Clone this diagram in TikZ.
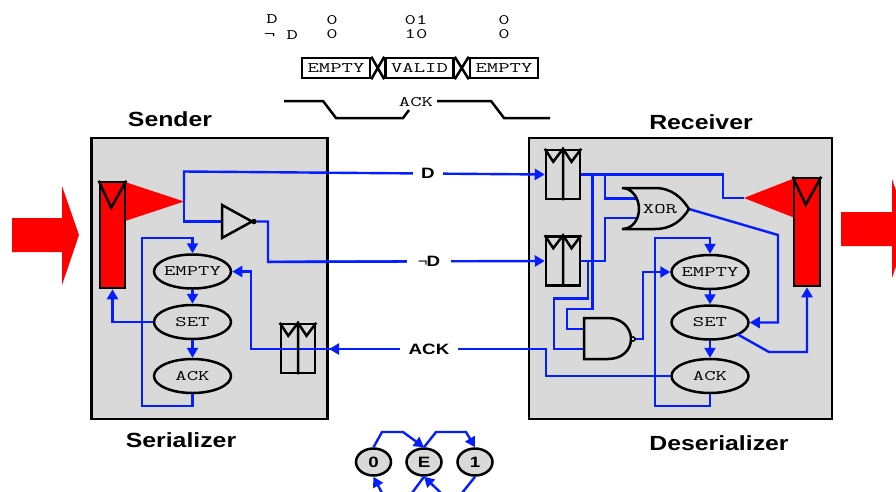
\documentclass[tikz,border=0pt]{standalone}
\usepackage{fontspec}
\usepackage{graphicx}
\setmainfont{Liberation Sans}
\usetikzlibrary{shapes.geometric,arrows.meta}
\definecolor{wire}{RGB}{5,30,255}
\definecolor{panel}{RGB}{217,217,217}
\newcommand{\tw}[1]{\makebox[0pt][c]{\scalebox{1.52}[1]{\fontsize{14.5}{15}\selectfont\ttfamily #1}}}
\newcommand{\hd}[1]{\scalebox{1.21}[1]{\fontsize{20.5}{22}\selectfont\bfseries #1}}
\newcommand{\lb}[1]{\scalebox{1.25}[1]{\fontsize{15}{16}\selectfont\bfseries #1}}
\tikzset{
  x=1pt,y=-1pt,
  panelbox/.style={draw=black,line width=2.6pt,fill=panel},
  blk/.style={draw=black,line width=2.5pt,line join=miter},
  wirel/.style={draw=wire,line width=2.4pt,line join=miter},
  arr/.style={wirel,-{Triangle[length=10pt,width=11pt]}},
  state/.style={ellipse,draw=black,line width=2.5pt,fill=panel,minimum width=77pt,minimum height=34pt,inner sep=0pt},
  small/.style={ellipse,draw=black,line width=2.5pt,fill=panel,minimum width=35pt,minimum height=27pt,inner sep=0pt},
  latchbox/.style={rectangle,draw=black,line width=2.5pt,minimum width=34pt,minimum height=49pt,inner sep=0pt},
  fifo/.style={rectangle,draw=black,line width=2.6pt,fill=red,minimum width=25pt,minimum height=106pt,inner sep=0pt},
  wavebox/.style={rectangle,draw=black,line width=2.5pt,fill=white,minimum width=68pt,minimum height=20pt,inner sep=0pt},
  gap/.style={fill=white,inner sep=0pt,minimum height=14pt},
  plain/.style={inner sep=0pt}
}
\newcommand{\latchmarks}[1]{%
  \draw[blk] (#1.north) -- (#1.south)
    (#1.north west) -- ++(8.5,13) -- (#1.north)  -- ++(8.5,13) -- (#1.north east);
}
\begin{document}
\begin{tikzpicture}
\clip (0,0) rectangle (896,491);
% timing header
\node[plain] (dA) at (272,19) {\tw{D}};
\node[plain] (dB) at (332,20) {\tw{0}};
\node[plain] (dC) at (416,20) {\tw{01}};
\node[plain] (dD) at (504,20) {\tw{0}};
\node[plain] (nA) at (281,35.5) {\tw{¬ D}};
\node[plain] (nB) at (332,34) {\tw{0}};
\node[plain] (nC) at (416,34) {\tw{10}};
\node[plain] (nD) at (504,34) {\tw{0}};
\node[wavebox] (w1) at (336,68) {\tw{EMPTY}};
\node[wavebox] (w2) at (419.5,68) {\tw{VALID}};
\node[wavebox] (w3) at (504,68) {\tw{EMPTY}};
\draw[blk] (w1.north east) -- (w2.south west) (w1.south east) -- (w2.north west);
\draw[blk] (w2.north east) -- (w3.south west) (w2.south east) -- (w3.north west);
\node[plain] (ackw) at (416,102) {\tw{ACK}};
\coordinate (wl) at (284,101);
\coordinate (wr) at (550,118);
\draw[blk] (wl) -- (323,101) -- (336,118) -- (403,118) -- (409,110);
\draw[blk] (437,101) -- (491,101) -- (504,118) -- (wr);
% titles
\node[plain] (tS) at (170,119) {\hd{Sender}};
\node[plain] (tR) at (701,122) {\hd{Receiver}};
\node[plain] (tSz) at (181,440) {\hd{Serializer}};
\node[plain] (tDz) at (719,443) {\hd{Deserializer}};
% panels
\node[panelbox,rectangle,minimum width=236.5pt,minimum height=281pt,inner sep=0pt] (pS) at (209.5,278.5) {};
\node[panelbox,rectangle,minimum width=303pt,minimum height=281pt,inner sep=0pt] (pR) at (680.5,278.5) {};
% red arrows and triangles
\fill[red] (12,218) -- (62,218) -- (62,186) -- (79,235) -- (62,285) -- (62,252) -- (12,252) -- cycle;
\fill[red] (841,212) -- (892,212) -- (892,179) -- (909,228) -- (892,278) -- (892,246) -- (841,246) -- cycle;
\fill[red] (125,182) -- (184,201.5) -- (125,221) -- cycle;
\fill[red] (795,178) -- (744,198) -- (795,218) -- cycle;
% fifos
\node[fifo] (fS) at (112.5,235) {};
\draw[blk] (fS.north west) -- ++(12.5,27) -- (fS.north east);
\node[fifo,minimum width=26pt,minimum height=108pt] (fR) at (807,232) {};
\draw[blk] (fR.north west) -- ++(13,28) -- (fR.north east);
% latches
\node[latchbox] (lS) at (298,348.5) {};
\node[latchbox] (l1) at (563,174.5) {};
\node[latchbox] (l2) at (563,261) {};
% states
\node[state] (eS) at (192.5,271.5) {\tw{EMPTY}};
\node[state] (sS) at (192.5,322) {\tw{SET}};
\node[state] (aS) at (192.5,376) {\tw{ACK}};
\node[state] (eR) at (710,272) {\tw{EMPTY}};
\node[state] (sR) at (710,322.5) {\tw{SET}};
\node[state] (aR) at (710,376) {\tw{ACK}};
% sender wires
\coordinate (srcS) at (184,201.5);
\coordinate (invIn) at (222,221.5);
\coordinate (invOut) at (256.5,221.5);
\draw[arr] (eS) -- (sS);
\draw[arr] (sS) -- (aS);
\draw[arr] (aS.south) -- (192.5,406) -- (142,406) -- (142,238) -- (192.5,238) -- (eS.north);
\draw[arr] (sS.west) -- (112.5,322) -- (fS.south);
\draw[wirel] (srcS) -- (184,221.5) -- (invIn);
\draw[wirel] (invOut) -- (268,221.5) -- (268,262) -- (410,261.5);
% link wires with labels
\draw[arr] (srcS) -- (184,171.5) -- (l1.west);
\draw[arr] (268,261.8) -- (l2.west);
\draw[wirel] (aR.west) -- (546,376) -- (546,349) -- (pS.east |- 0,349);
\draw[arr] (546,349) -- (pS.east |- 0,349);
\draw[arr] (pS.east |- 0,349) -- (251,349) -- (251,271.5) -- (eS.east);
\node[gap,minimum width=30pt] (lD) at (428,173.5) {\lb{D}};
\node[gap,minimum width=44pt] (lN) at (429,261) {\fontsize{15}{16}\selectfont\scalebox{1.1}[1]{¬}\kern-1pt\lb{D}};
\node[gap,minimum width=58pt] (lA) at (429,349) {\lb{ACK}};
% inverter
\draw[blk,fill=panel] (invIn |- 0,205) -- (252,221.5) -- (invIn |- 0,238) -- cycle;
\node[circle,fill=black,inner sep=0pt,minimum size=5.5pt] (bubS) at (254,221.5) {};
% receiver wires
\coordinate (x1) at (636,198.5);
\coordinate (x2) at (636,218);
\coordinate (xo) at (689,209);
\coordinate (n1) at (584,329);
\coordinate (n2) at (584,349);
\coordinate (no) at (635,339);
\coordinate (ftip) at (744,198);
\draw[wirel] (l1.east) -- (723,174.5) -- (723,198) -- (ftip);
\draw[wirel] (605,174.5) -- (605,198.5) -- (x1);
\draw[wirel] (l2.east) -- (605,261) -- (605,218) -- (x2);
\draw[wirel] (592.5,174.5) -- (592.5,309) -- (567,309) -- (567,329) -- (n1);
\draw[wirel] (588,261) -- (588,298.5) -- (554,298.5) -- (554,349) -- (n2);
\draw[arr] (aR.south) -- (710,406) -- (655,406) -- (655,238) -- (710,238) -- (eR.north);
\draw[arr] (no) -- (643,339) -- (643,272) -- (eR.west);
\draw[arr] (eR) -- (sR);
\draw[arr] (sR) -- (aR);
\draw[arr] (xo) -- (778,235) -- (778,322.5) -- (sR.east);
\draw[arr] (737,334) -- (769,352) -- (807,352) -- (fR.south);
% gates
\draw[blk,fill=panel] (622,188) -- (655,188) .. controls (672,188) and (682,198) .. (xo) .. controls (682,220) and (672,229) .. (655,229) -- (622,229) .. controls (632,229) and (639,220) .. (639,209) .. controls (639,198) and (632,188) .. (622,188) -- cycle;
\node[plain] (xorT) at (660,209) {\tw{XOR}};
\draw[blk,fill=panel] (584,318) -- (608,318) .. controls (622,318) and (631,328) .. (631,339) .. controls (631,350) and (622,359) .. (608,359) -- (584,359) -- cycle;
\node[circle,draw=black,fill=white,line width=1.6pt,inner sep=0pt,minimum size=4pt] (bubR) at (633,339) {};
% latch details
\latchmarks{lS}
\latchmarks{l1}
\latchmarks{l2}
% encoding graph
\node[small] (g0) at (373.5,462) {\lb{0}};
\node[small] (gE) at (424,462) {\lb{E}};
\node[small] (g1) at (475,462) {\lb{1}};
\draw[arr] (g0.north) -- (382,432) -- (403,432) -- (gE.north);
\draw[arr] (gE.north) -- (436,432) -- (466,432) -- (g1.north);
\coordinate (b0) at (382,493);
\coordinate (bEl) at (412,493);
\coordinate (bEr) at (441,493);
\coordinate (b1) at (462,493);
\draw[arr] (b0) -- (g0.south);
\draw[wirel] (bEl) -- (gE.south);
\draw[arr] (bEr) -- (gE.south);
\draw[wirel] (b1) -- (g1.south);
\end{tikzpicture}
\end{document}
